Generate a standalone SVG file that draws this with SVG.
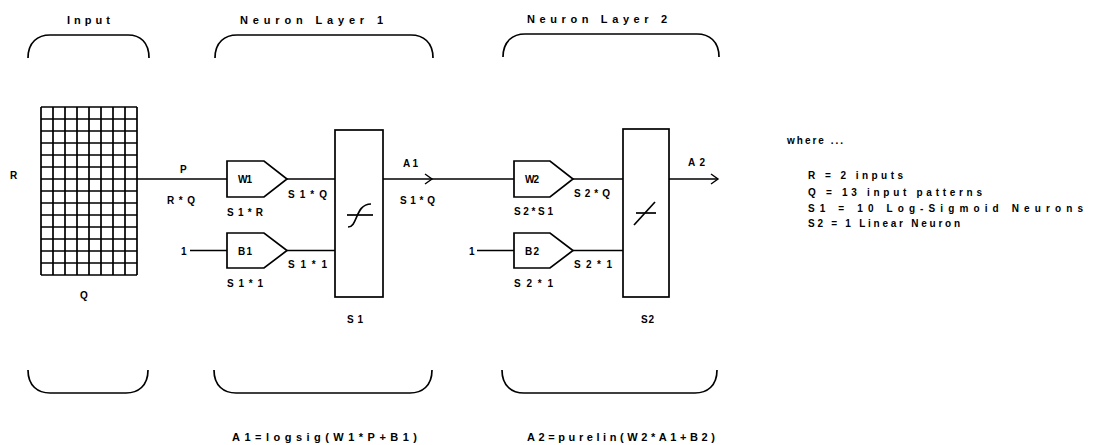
<svg xmlns="http://www.w3.org/2000/svg" width="1096" height="445" viewBox="0 0 1096 445">
<style>
.ln{fill:none;stroke:#000;stroke-width:1.7}
.gr{fill:none;stroke:#000;stroke-width:1.7}
.bx{fill:#fff;stroke:#000;stroke-width:1.7}
text{font-family:"Liberation Sans",Arial,sans-serif;font-weight:bold;fill:#000}
.t12{font-size:11px}
.t10{font-size:10px}
</style>
<defs>
<marker id="ah" markerWidth="10" markerHeight="12" refX="8" refY="6" orient="auto" markerUnits="userSpaceOnUse">
<path d="M1,1 L8,6 L1,11" fill="none" stroke="#000" stroke-width="1.4"/>
</marker>
</defs>
<rect width="1096" height="445" fill="#fff"/>

<g id="braces">
<path class="ln" d="M28,58 C28,42 38,35 50,35 L128,35 C140,35 149,42 149,58"/>
<path class="ln" d="M215,58 C215,42 225,35 237,35 L411,35 C423,35 433,42 433,58"/>
<path class="ln" d="M503,57 C503,41 513,34 525,34 L697,34 C709,34 719,41 719,57"/>
<path class="ln" d="M28,370 C28,386 38,393 50,393 L126,393 C138,393 148,386 148,370"/>
<path class="ln" d="M214,370 C214,386 224,393 236,393 L410,393 C422,393 432,386 432,370"/>
<path class="ln" d="M502,370 C502,386 512,393 524,393 L695,393 C707,393 717,386 717,370"/>
</g>

<g id="titles">
<text class="t12" x="67" y="24" textLength="43" lengthAdjust="spacing">Input</text>
<text class="t12" x="240" y="24" textLength="143" lengthAdjust="spacing">Neuron Layer 1</text>
<text class="t12" x="527" y="23" textLength="140" lengthAdjust="spacing">Neuron Layer 2</text>
</g>

<g id="input">
<path class="gr" d="M41,107V275M53,107V275M65,107V275M77,107V275M89,107V275M101,107V275M113,107V275M125,107V275M137,107V275
M41,107H137M41,119H137M41,131H137M41,143H137M41,155H137M41,167H137M41,179H137M41,191H137M41,203H137M41,215H137M41,227H137M41,239H137M41,251H137M41,263H137M41,275H137"/>
<text class="t10" x="10" y="179">R</text>
<text class="t10" x="80" y="299">Q</text>
</g>

<g id="connectors">
<path class="ln" d="M137,179H227"/>
<path class="ln" d="M287,179H335"/>
<path class="ln" d="M190,250.5H227"/>
<path class="ln" d="M287,250.5H335"/>
<path class="ln" d="M383,179H432" marker-end="url(#ah)"/>
<path class="ln" d="M432,179H514"/>
<path class="ln" d="M573,179H623"/>
<path class="ln" d="M477,250.5H514"/>
<path class="ln" d="M573,250.5H623"/>
<path class="ln" d="M669,179H718" marker-end="url(#ah)"/>
</g>

<g id="labels">
<text class="t10" x="180" y="173">P</text>
<text class="t10" x="167" y="204" textLength="28" lengthAdjust="spacing">R*Q</text>
<text class="t10" x="181" y="255">1</text>
<text class="t10" x="288" y="198" textLength="39" lengthAdjust="spacing">S1*Q</text>
<text class="t10" x="288" y="268" textLength="39" lengthAdjust="spacing">S1*1</text>
<text class="t10" x="403" y="167" textLength="15" lengthAdjust="spacing">A1</text>
<text class="t10" x="400" y="204" textLength="35" lengthAdjust="spacing">S1*Q</text>
<text class="t10" x="469" y="255">1</text>
<text class="t10" x="574" y="197" textLength="36" lengthAdjust="spacing">S2*Q</text>
<text class="t10" x="574" y="268" textLength="38" lengthAdjust="spacing">S2*1</text>
<text class="t10" x="688" y="166" textLength="17" lengthAdjust="spacing">A2</text>
</g>

<g id="W1">
<polygon class="bx" points="227,161 264,161 287,179 264,197 227,197"/>
<text class="t10" x="238" y="183" textLength="14" lengthAdjust="spacing">W1</text>
<text class="t10" x="227" y="216" textLength="36" lengthAdjust="spacing">S1*R</text>
</g>
<g id="B1">
<polygon class="bx" points="227,233 264,233 287,250.5 264,268 227,268"/>
<text class="t10" x="238" y="255" textLength="14" lengthAdjust="spacing">B1</text>
<text class="t10" x="227" y="287" textLength="36" lengthAdjust="spacing">S1*1</text>
</g>
<g id="S1">
<rect class="bx" x="335" y="130" width="48" height="167"/>
<path class="ln" d="M347,215H373"/>
<path class="ln" d="M348,227 C358,227 355,204 371,204"/>
<text class="t10" x="347" y="323" textLength="16" lengthAdjust="spacing">S1</text>
</g>

<g id="W2">
<polygon class="bx" points="514,161 550,161 573,179 550,197 514,197"/>
<text class="t10" x="525" y="183" textLength="14" lengthAdjust="spacing">W2</text>
<text class="t10" x="514" y="215" textLength="39" lengthAdjust="spacing">S2*S1</text>
</g>
<g id="B2">
<polygon class="bx" points="514,233 550,233 573,250.5 550,268 514,268"/>
<text class="t10" x="525" y="255" textLength="14" lengthAdjust="spacing">B2</text>
<text class="t10" x="514" y="287" textLength="39" lengthAdjust="spacing">S2*1</text>
</g>
<g id="S2">
<rect class="bx" x="623" y="129" width="46" height="168"/>
<path class="ln" d="M636,213H656"/>
<path class="ln" d="M634,225L655,202"/>
<text class="t10" x="641" y="323" textLength="13" lengthAdjust="spacing">S2</text>
</g>

<g id="formulas">
<text class="t12" x="232" y="441" textLength="185" lengthAdjust="spacing">A1=logsig(W1*P+B1)</text>
<text class="t12" x="527" y="441" textLength="188" lengthAdjust="spacing">A2=purelin(W2*A1+B2)</text>
</g>

<g id="legend">
<text class="t10" x="787" y="144" textLength="56" lengthAdjust="spacing">where ...</text>
<text class="t10" x="808" y="179" textLength="95" lengthAdjust="spacing">R = 2 inputs</text>
<text class="t10" x="808" y="196" textLength="174" lengthAdjust="spacing">Q = 13 input patterns</text>
<text class="t10" x="808" y="212" textLength="275" lengthAdjust="spacing">S1 = 10 Log-Sigmoid Neurons</text>
<text class="t10" x="808" y="227" textLength="152" lengthAdjust="spacing">S2 = 1 Linear Neuron</text>
</g>
</svg>
